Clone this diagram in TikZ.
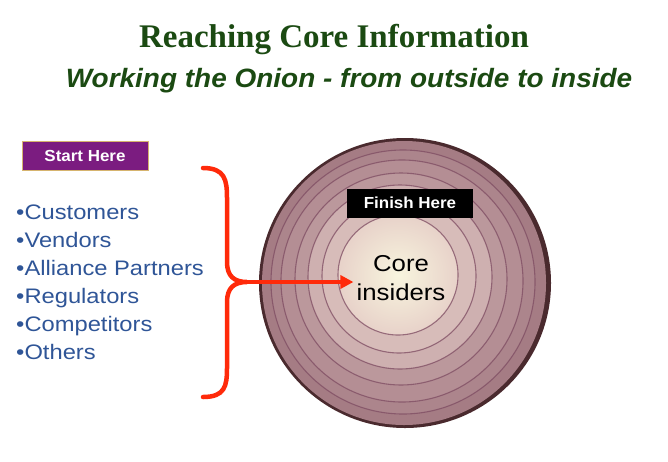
\documentclass[tikz,border=0pt]{standalone}
\usepackage{fontspec}
\setmainfont{Liberation Serif}
\setsansfont{Liberation Sans}
\newfontfamily\subfont[FakeStretch=1.055]{Liberation Sans}
\newfontfamily\listfont[FakeStretch=1.13]{Liberation Sans}
\newfontfamily\boxfont[FakeStretch=1.06]{Liberation Sans}
\newfontfamily\corefont[FakeStretch=1.12]{Liberation Sans}
\usetikzlibrary{arrows.meta}
\definecolor{titlegreen}{HTML}{1B4A12}
\definecolor{listblue}{HTML}{2F5597}
\definecolor{startpurple}{HTML}{7B1C80}
\definecolor{bracered}{HTML}{FF2A0A}
\definecolor{ringline}{HTML}{7E4C62}
\definecolor{onionouter}{HTML}{A57C84}
\definecolor{onionmid}{HTML}{C9AAAC}
\definecolor{onionedge}{HTML}{4A2A2E}
\definecolor{corelight}{HTML}{F8F5DE}
\definecolor{coreedge}{HTML}{E8D3CA}
\tikzset{
  titletext/.style={font=\fontsize{33}{36}\selectfont\bfseries, text=titlegreen, inner sep=0pt, anchor=base},
  subtext/.style={font=\subfont\fontsize{26.5}{30}\selectfont\bfseries\itshape, text=titlegreen, inner sep=0pt, anchor=base},
  listtext/.style={font=\listfont\fontsize{21}{28}\selectfont, text=listblue, align=left, inner sep=0pt, anchor=north west},
  labelbox/.style={font=\boxfont\fontsize{16}{18}\selectfont\bfseries, text=white, minimum width=126pt, minimum height=29pt, inner sep=0pt},
  bracestyle/.style={draw=bracered, line width=4.5pt, line cap=round},
  arrowstyle/.style={draw=bracered, line width=3.5pt, -{Triangle[length=13pt,width=13pt]}},
  coretext/.style={font=\corefont\fontsize{23}{28.5}\selectfont, align=center, inner sep=1pt},
}
\begin{document}
\begin{tikzpicture}[x=1pt,y=-1pt]
\useasboundingbox (0,0) rectangle (668,461);
% titles
\node[titletext] (title) at (334,47) {Reaching Core Information};
\node[subtext] (sub) at (349,87) {Working the Onion - from outside to inside};
% start box
\node[labelbox, fill=startpurple, draw={rgb,255:red,214;green,180;blue,110}, line width=0.6pt] (start) at (85,156) {Start Here};
% list
\node[listtext] (list) at (16,205) {•Customers\\•Vendors\\•Alliance Partners\\•Regulators\\•Competitors\\•Others};
% onion
\fill[onionedge] (405,283) circle[x radius=146,y radius=145];
\fill[onionouter] (404,283) circle[radius=142];
\foreach \r/\cx/\cy/\c in {
  132/403/282/onionouter!80!onionmid,
  121/402/281/onionouter!60!onionmid,
  106/401/279/onionouter!40!onionmid,
  92/400/277/onionmid!85!coreedge,
  77/399/276/onionmid!55!coreedge,
  60/398/275/coreedge}{
  \fill[\c] (\cx,\cy) circle[radius=\r];
  \draw[ringline, line width=1.1pt, opacity=0.75] (\cx,\cy) circle[radius=\r];
}
\shade[inner color=corelight, outer color=coreedge] (398,275) circle[radius=58];
% finish box
\node[labelbox, fill=black] (finish) at (410,203) {Finish Here};
% core text
\node[coretext] (core) at (401,278) {Core\\insiders};
% brace
\coordinate (btop) at (203,168);
\coordinate (bbot) at (203,397);
\coordinate (btip) at (247,282);
\draw[bracestyle] (btop) .. controls (225,168) and (227,180) .. (227,198)
  -- (227,262) .. controls (227,276) and (234,282) .. (btip)
  .. controls (234,282) and (227,288) .. (227,302)
  -- (227,368) .. controls (227,386) and (225,397) .. (bbot);
\draw[arrowstyle] (btip) -- ([xshift=-2pt]core.west |- btip);
\end{tikzpicture}
\end{document}
